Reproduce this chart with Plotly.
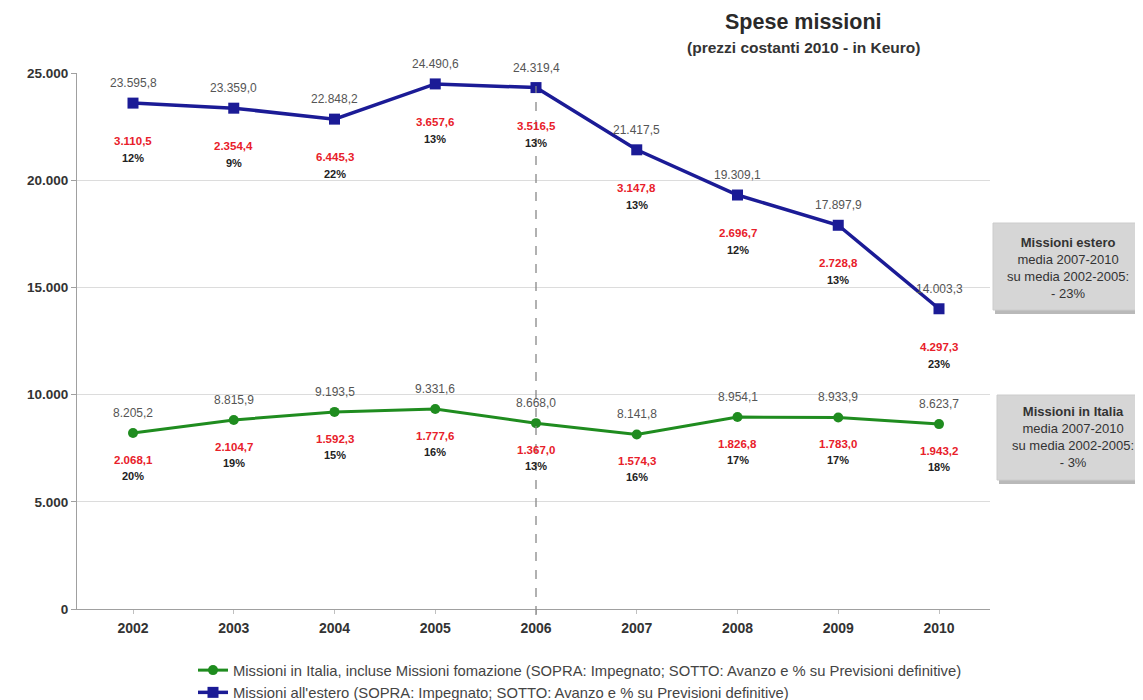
import plotly.graph_objects as go

years = [2002, 2003, 2004, 2005, 2006, 2007, 2008, 2009, 2010]
estero = [23595.8, 23359.0, 22848.2, 24490.6, 24319.4, 21417.5, 19309.1, 17897.9, 14003.3]
estero_avanzo = [3110.5, 2354.4, 6445.3, 3657.6, 3516.5, 3147.8, 2696.7, 2728.8, 4297.3]
estero_pct = ["12%", "9%", "22%", "13%", "13%", "13%", "12%", "13%", "23%"]
italia = [8205.2, 8815.9, 9193.5, 9331.6, 8668.0, 8141.8, 8954.1, 8933.9, 8623.7]
italia_avanzo = [2068.1, 2104.7, 1592.3, 1777.6, 1367.0, 1574.3, 1826.8, 1783.0, 1943.2]
italia_pct = ["20%", "19%", "15%", "16%", "13%", "16%", "17%", "17%", "18%"]
y_ticks = [0, 5000, 10000, 15000, 20000, 25000]
y_ticktext = ["0", "5.000", "10.000", "15.000", "20.000", "25.000"]
split_year = 2006

BLUE = "#1b1b96"
GREEN = "#1f8c1f"
RED = "#e8202a"
FONT = "Liberation Sans, Arial, sans-serif"

# page geometry (pixels, page coordinates); the page body has an 8px margin
PAGE_W, PAGE_H, OFF = 1143, 700, 8
W, H = PAGE_W - OFF, PAGE_H - OFF
L, R, T, B = 77, 990, 73, 609


def px_x(px):
    return (px - L) / (R - L)


def px_y(py):
    return (B - py) / (B - T)


def it(v):
    s = f"{v:,.1f}"
    return s.replace(",", "X").replace(".", ",").replace("X", ".")


fig = go.Figure()
fig.add_trace(go.Scatter(
    x=years, y=italia, mode="lines+markers",
    name="Missioni in Italia, incluse Missioni fomazione (SOPRA: Impegnato; SOTTO: Avanzo e % su Previsioni definitive)",
    line=dict(color=GREEN, width=3), marker=dict(symbol="circle", size=10, color=GREEN),
    cliponaxis=False))
fig.add_trace(go.Scatter(
    x=years, y=estero, mode="lines+markers",
    name="Missioni all'estero (SOPRA: Impegnato; SOTTO: Avanzo e % su Previsioni definitive)",
    line=dict(color=BLUE, width=3.5), marker=dict(symbol="square", size=11, color=BLUE),
    cliponaxis=False))

ann = []
for series, avz, pct, d_val, d_red, d_pct in [(estero, estero_avanzo, estero_pct, 20, -38, -55),
                                              (italia, italia_avanzo, italia_pct, 20, -27, -43)]:
    for x, v, a, p in zip(years, series, avz, pct):
        ann.append(dict(x=x, y=v, xref="x", yref="y", text=it(v), showarrow=False,
                        xanchor="center", yanchor="middle",
                        yshift=d_val, font=dict(family=FONT, size=12, color="#555555")))
        ann.append(dict(x=x, y=v, xref="x", yref="y", text=f"<b>{it(a)}</b>", showarrow=False,
                        xanchor="center", yanchor="middle",
                        yshift=d_red, font=dict(family=FONT, size=11.5, color=RED)))
        ann.append(dict(x=x, y=v, xref="x", yref="y", text=f"<b>{p}</b>", showarrow=False,
                        xanchor="center", yanchor="middle",
                        yshift=d_pct, font=dict(family=FONT, size=11, color="#222222")))

# titles
ann.append(dict(xref="paper", yref="paper", x=px_x(803), y=px_y(22), xanchor="center", yanchor="middle",
                text="<b>Spese missioni</b>", showarrow=False,
                font=dict(family=FONT, size=21.5, color="#2a2a2a")))
ann.append(dict(xref="paper", yref="paper", x=px_x(803), y=px_y(47), xanchor="center", yanchor="middle",
                text="<b>(prezzi costanti 2010 - in Keuro)</b>", showarrow=False,
                font=dict(family=FONT, size=15.5, color="#333333")))

# side boxes: shapes for background, annotations for text
shapes = []
boxes = [
    (993, 223, 1160, 310, 1068, 268,
     "<b>Missioni estero</b><br>media 2007-2010<br>su media 2002-2005:<br>- 23%"),
    (997, 395, 1160, 480, 1073, 437,
     "<b>Missioni in Italia</b><br>media 2007-2010<br>su media 2002-2005:<br>- 3%"),
]
for x0, y0, x1, y1, tx, ty, txt in boxes:
    shapes.append(dict(type="rect", xref="paper", yref="paper", layer="above",
                       x0=px_x(x0 + 2), x1=px_x(x1 + 3), y0=px_y(y0 + 3), y1=px_y(y1 + 4),
                       fillcolor="#b9b9b9", line=dict(width=0)))
    shapes.append(dict(type="rect", xref="paper", yref="paper", layer="above",
                       x0=px_x(x0), x1=px_x(x1), y0=px_y(y0), y1=px_y(y1),
                       fillcolor="#d6d6d6", line=dict(color="#cccccc", width=1)))
    ann.append(dict(xref="paper", yref="paper", x=px_x(tx), y=px_y(ty), xanchor="center",
                    yanchor="middle", text=txt, showarrow=False, align="center",
                    font=dict(family=FONT, size=13, color="#333333")))

shapes.append(dict(type="line", xref="x", yref="paper", x0=split_year, x1=split_year,
                   y0=px_y(615), y1=px_y(86), line=dict(color="#888888", width=1.3, dash="dash")))

fig.update_layout(
    width=W, height=H,
    margin=dict(l=L - OFF, r=PAGE_W - R, t=T - OFF, b=PAGE_H - B, autoexpand=False),
    paper_bgcolor="white", plot_bgcolor="white",
    font=dict(family=FONT, color="#333333"),
    showlegend=True,
    legend=dict(xref="container", yref="container", x=(193 - OFF) / W, y=1 - (654 - OFF) / H,
                xanchor="left", yanchor="top",
                font=dict(family=FONT, size=14.8, color="#444444"),
                tracegroupgap=0, itemwidth=30, bgcolor="rgba(0,0,0,0)"),
    annotations=ann, shapes=shapes,
)
fig.update_xaxes(range=[years[0] - (133 - L) / 100.75, years[-1] + (R - 939) / 100.75],
                 tickvals=years, ticktext=[f"<b>{y}</b>" for y in years], showgrid=False,
                 showline=True, linecolor="#a0a0a0", linewidth=1, ticks="outside",
                 ticklen=4, tickcolor="#c0c0c0", ticklabelstandoff=2,
                 tickfont=dict(family=FONT, size=14, color="#333333"), zeroline=False)
fig.update_yaxes(range=[0, 25000], tickvals=y_ticks,
                 ticktext=[f"<b>{t}</b>" for t in y_ticktext], showgrid=True,
                 gridcolor="#dcdcdc", gridwidth=1, showline=True, linecolor="#a0a0a0",
                 ticks="outside", ticklen=5, tickcolor="#a0a0a0",
                 tickfont=dict(family=FONT, size=13.5, color="#333333"), zeroline=False)

fig.write_html("out.html")
